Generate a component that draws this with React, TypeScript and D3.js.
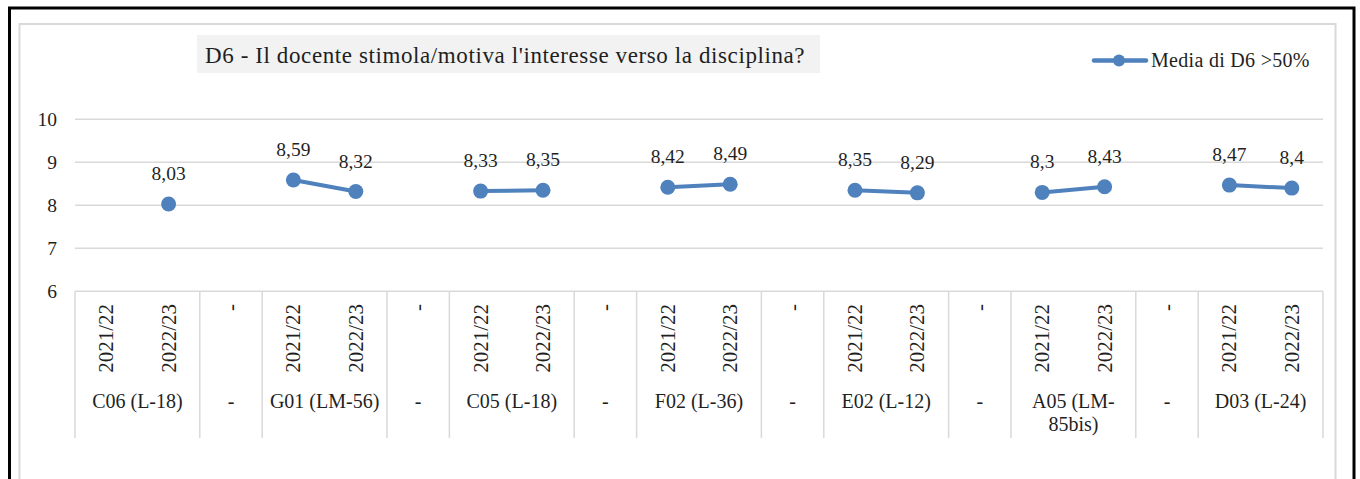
import React from "react";
import * as d3 from "d3";

const groups = ["C06 (L-18)", "-", "G01 (LM-56)", "-", "C05 (L-18)", "-", "F02 (L-36)", "-", "E02 (L-12)", "-", "A05 (LM-85bis)", "-", "D03 (L-24)"];
const years = ["2021/22", "2022/23"];
const values: (number | null)[][] = [
  [null, 8.03],
  [8.59, 8.32],
  [8.33, 8.35],
  [8.42, 8.49],
  [8.35, 8.29],
  [8.3, 8.43],
  [8.47, 8.4],
];
const yTicks = [6, 7, 8, 9, 10];
const title = "D6 - Il docente stimola/motiva l'interesse verso la disciplina?";
const seriesName = "Media di D6 >50%";

const W = 1360, H = 479;
const FONT = "Liberation Serif, DejaVu Serif, serif";
const BLUE = "#4F81BD";
const GRID = "#d9d9d9";
const TXT = "#1f1f1f";

type Slot = { key: string; group: number; sep: boolean; year: string; value: number | null };

export default function App() {
  const slots: Slot[] = [];
  let dataIdx = 0;
  groups.forEach((g, gi) => {
    if (g === "-") {
      slots.push({ key: `s${gi}`, group: gi, sep: true, year: "-", value: null });
    } else {
      years.forEach((y, yi) => {
        slots.push({ key: `g${gi}-${yi}`, group: gi, sep: false, year: y, value: values[dataIdx][yi] });
      });
      dataIdx++;
    }
  });

  const x0 = 75, x1 = 1323;
  const x = d3.scaleBand<string>().domain(slots.map((s) => s.key)).range([x0, x1]).padding(0);
  const y = d3.scaleLinear().domain([6, 10]).range([291.3, 119.3]);
  const bw = x.bandwidth();
  const cx = (k: string) => (x(k) as number) + bw / 2;

  const line = d3
    .line<Slot>()
    .defined((d) => d.value !== null)
    .x((d) => cx(d.key))
    .y((d) => y(d.value as number));

  const spans = groups.map((g, gi) => {
    const ss = slots.filter((s) => s.group === gi);
    const a = x(ss[0].key) as number;
    const b = (x(ss[ss.length - 1].key) as number) + bw;
    return { g, a, b };
  });
  const boundaries = [x0, ...spans.map((s) => s.b)];

  const wrapLabel = (g: string) => (g === "A05 (LM-85bis)" ? ["A05 (LM-", "85bis)"] : [g]);
  const ts = (size: number, ls = 0): React.CSSProperties => ({ fontFamily: FONT, fontSize: size, letterSpacing: ls });

  return (
    <svg width={W} height={H} style={{ position: "absolute", left: 0, top: 0 }}>
      <rect x={0} y={0} width={W} height={H} fill="#fff" />
      <rect x={9.5} y={8} width={1344.5} height={H + 20} fill="#fff" stroke="#000" strokeWidth={3} />
      <rect x={19.5} y={24} width={1316} height={H + 20} fill="#fff" stroke={GRID} strokeWidth={2} />

      <rect x={197} y={35} width={623} height={38} fill="#f2f2f2" />
      <text x={205} y={63} style={ts(23, 0.6)} fill={TXT}>
        {title}
      </text>

      <line x1={1094} x2={1146} y1={60.5} y2={60.5} stroke={BLUE} strokeWidth={4.5} strokeLinecap="round" />
      <circle cx={1119} cy={60.5} r={6} fill={BLUE} />
      <text x={1151} y={67} style={ts(20, 0.3)} fill={TXT}>
        {seriesName}
      </text>

      {yTicks.map((t) => (
        <g key={t}>
          <line x1={x0} x2={x1} y1={y(t)} y2={y(t)} stroke={GRID} strokeWidth={1.5} />
          <text x={57} y={y(t)} dy="0.35em" textAnchor="end" style={ts(19.5)} fill={TXT}>
            {t}
          </text>
        </g>
      ))}

      {boundaries.map((bx, i) => (
        <line key={i} x1={bx} x2={bx} y1={291.3} y2={438} stroke={GRID} strokeWidth={1.5} />
      ))}

      {slots.map((s) => (
        <text
          key={s.key}
          transform={`translate(${cx(s.key) + 7},304) rotate(-90)`}
          textAnchor="end"
          style={ts(21)}
          fill={TXT}
        >
          {s.year}
        </text>
      ))}

      {spans.map((s, i) => (
        <text key={i} x={(s.a + s.b) / 2} y={408} textAnchor="middle" style={ts(20)} fill={TXT}>
          {wrapLabel(s.g).map((ln, li) => (
            <tspan key={li} x={(s.a + s.b) / 2} dy={li === 0 ? 0 : 23.3}>
              {ln}
            </tspan>
          ))}
        </text>
      ))}

      <path d={line(slots) || ""} fill="none" stroke={BLUE} strokeWidth={4} />
      {slots
        .filter((s) => s.value !== null)
        .map((s) => (
          <g key={s.key}>
            <circle cx={cx(s.key)} cy={y(s.value as number)} r={7.5} fill={BLUE} />
            <text x={cx(s.key)} y={y(s.value as number) - 24} textAnchor="middle" style={ts(19.5)} fill={TXT}>
              {String(s.value).replace(".", ",")}
            </text>
          </g>
        ))}
    </svg>
  );
}
